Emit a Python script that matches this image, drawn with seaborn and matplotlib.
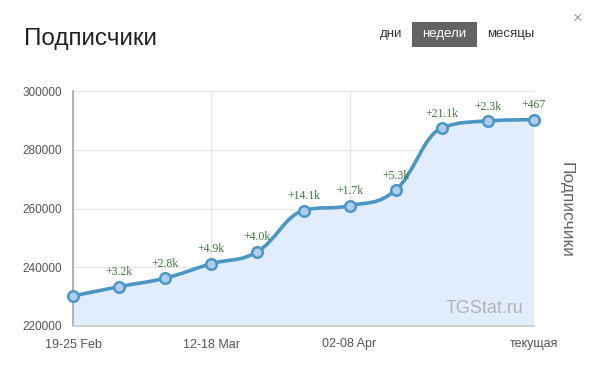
import matplotlib
matplotlib.use("Agg")
import matplotlib.pyplot as plt
from matplotlib.path import Path
from matplotlib.patches import PathPatch, FancyBboxPatch
import seaborn as sns
import numpy as np

# данные (читаются с картинки)
weeks = ["19-25 Feb", "26 Feb-04 Mar", "05-11 Mar", "12-18 Mar", "19-25 Mar",
         "26 Mar-01 Apr", "02-08 Apr", "09-15 Apr", "16-22 Apr", "23-29 Apr", "текущая"]
subscribers = [230200, 233400, 236300, 241200, 245300, 259300,
               260950, 266300, 287400, 289800, 290250]
growth_labels = ["", "+3.2k", "+2.8k", "+4.9k", "+4.0k", "+14.1k",
                 "+1.7k", "+5.3k", "+21.1k", "+2.3k", "+467"]
tick_weeks = ["19-25 Feb", "12-18 Mar", "02-08 Apr", "текущая"]

LINE = "#4a96c6"
FILL = "#e1ecfc"

sns.set_theme(style="white")
plt.rcParams['font.family'] = ['Liberation Sans', 'DejaVu Sans']

fig = plt.figure(figsize=(5.98, 3.76), dpi=100)
ax = fig.add_axes([73 / 598, 50 / 376, 461 / 598, 235 / 376])

x = np.arange(len(weeks))
y = np.array(subscribers, dtype=float)


# сглаживание как в highcharts (spline)
def spline_path(xs, ys, smoothing=1.5):
    n = len(xs)
    left = [(xs[i], ys[i]) for i in range(n)]
    right = [(xs[i], ys[i]) for i in range(n)]
    den = smoothing + 1
    for i in range(1, n - 1):
        px, py = xs[i], ys[i]
        lx, ly = xs[i - 1], ys[i - 1]
        nx, ny = xs[i + 1], ys[i + 1]
        lcx = (smoothing * px + lx) / den
        lcy = (smoothing * py + ly) / den
        rcx = (smoothing * px + nx) / den
        rcy = (smoothing * py + ny) / den
        if rcx != lcx:
            corr = (rcy - lcy) * (rcx - px) / (rcx - lcx) + py - rcy
            lcy += corr
            rcy += corr
        if lcy > max(ly, py):
            lcy = max(ly, py); rcy = 2 * py - lcy
        elif lcy < min(ly, py):
            lcy = min(ly, py); rcy = 2 * py - lcy
        if rcy > max(py, ny):
            rcy = max(py, ny); lcy = 2 * py - rcy
        elif rcy < min(py, ny):
            rcy = min(py, ny); lcy = 2 * py - rcy
        left[i] = (lcx, lcy)
        right[i] = (rcx, rcy)
    verts = [(xs[0], ys[0])]
    codes = [Path.MOVETO]
    for i in range(1, n):
        verts += [right[i - 1], left[i], (xs[i], ys[i])]
        codes += [Path.CURVE4] * 3
    return verts, codes


verts, codes = spline_path(x, y)
ymin, ymax = 220000, 300000

# заливка под линией
fv = verts + [(x[-1], ymin), (x[0], ymin), (x[0], y[0])]
fc = codes + [Path.LINETO, Path.LINETO, Path.CLOSEPOLY]
ax.add_patch(PathPatch(Path(fv, fc), facecolor=FILL, edgecolor="none", zorder=1))
ax.add_patch(PathPatch(Path(verts, codes), facecolor="none", edgecolor=LINE,
                       lw=2.6, zorder=3, capstyle="round"))

sns.scatterplot(x=x, y=y, ax=ax, s=58, color="#afcdea", edgecolor=LINE,
                linewidth=1.8, zorder=4, clip_on=False, legend=False)

for xi, yi, lab in zip(x, y, growth_labels):
    if lab:
        ax.annotate(lab, (xi, yi), xytext=(0, 6), textcoords="offset points",
                    ha="center", va="bottom", fontsize=8.5, color="#3c7a3c",
                    family=["Liberation Serif", "DejaVu Serif"], zorder=5)

ax.set_xlim(0, len(weeks) - 1)
ax.set_ylim(ymin, ymax)
ax.set_yticks(np.arange(220000, 300001, 20000))
ax.set_yticklabels([f"{v}" for v in range(220000, 300001, 20000)])
ax.set_xticks([weeks.index(w) for w in tick_weeks])
ax.set_xticklabels(tick_weeks)
ax.tick_params(axis="both", colors="#cccccc", labelcolor="#555555", labelsize=8.5,
               length=5, width=1, direction="out")
ax.tick_params(axis="y", pad=3)
ax.tick_params(axis="x", pad=3, length=6, labelsize=9)
ax.grid(True, color="#e6e6e6", lw=1, zorder=0)
ax.set_axisbelow(True)
for side in ["top", "right"]:
    ax.spines[side].set_visible(False)
ax.spines["left"].set_color("#aaaaaa")
ax.spines["bottom"].set_color("#cccccc")

ax.text(0.978, 0.04, "TGStat.ru", transform=ax.transAxes, ha="right", va="bottom",
        fontsize=13, color="#b4b4b4", zorder=6)

fig.text(566 / 598, 1 - 210 / 376, "Подписчики", rotation=270,
         ha="center", va="center", fontsize=12.5, color="#666666")

# заголовок и переключатели
fig.text(24 / 598, 1 - 39 / 376, "Подписчики", ha="left", va="center",
         fontsize=17.5, color="#222222")
fig.text(391 / 598, 1 - 34 / 376, "дни", ha="center", va="center",
         fontsize=9.5, color="#333333")
fig.patches.append(FancyBboxPatch((412 / 598, 1 - 47 / 376), 65 / 598, 25 / 376,
                                  boxstyle="square,pad=0", transform=fig.transFigure,
                                  facecolor="#636363", edgecolor="none", figure=fig))
fig.text(444.5 / 598, 1 - 34 / 376, "недели", ha="center", va="center",
         fontsize=9.5, color="white")
fig.text(511 / 598, 1 - 34 / 376, "месяцы", ha="center", va="center",
         fontsize=9.5, color="#333333")
fig.text(578 / 598, 1 - 18 / 376, "×", ha="center", va="center",
         fontsize=12, color="#999999")

fig.savefig("out.png", dpi=100)
